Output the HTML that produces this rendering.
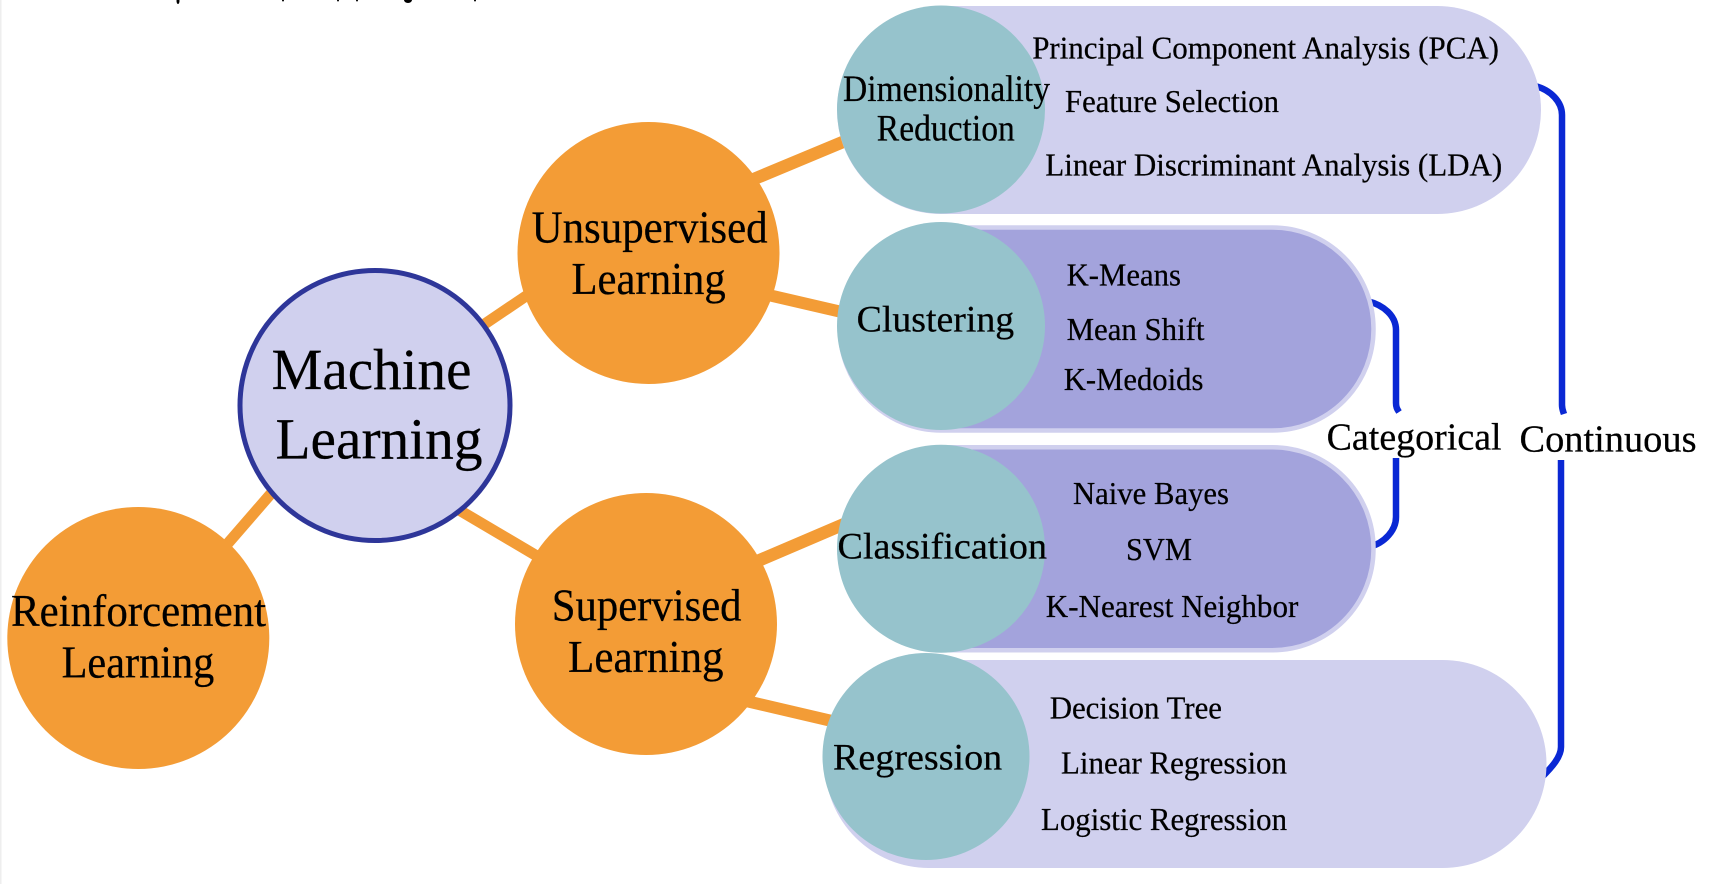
<!DOCTYPE html>
<html lang="en">
<head>
<meta charset="utf-8">
<title>Machine Learning</title>
<style>
html,body{margin:0;padding:0;background:#fff;width:1710px;height:884px;overflow:hidden}
svg{display:block}
text{font-family:"Liberation Serif","Times New Roman",serif;fill:#000;stroke:#000;stroke-width:.25}
.l{stroke:#f39c36;fill:none}
.b{stroke:#0a28d4;stroke-width:6.5;fill:none}
</style>
</head>
<body>
<svg width="1710" height="884" viewBox="0 0 1710 884" xmlns="http://www.w3.org/2000/svg">
<rect x="0" y="0" width="1.5" height="884" fill="#eeeeee"/>
<g fill="#000">
<ellipse cx="178" cy="1" rx="1.5" ry="3"/>
<ellipse cx="283" cy="0" rx="1" ry="1.5"/>
<ellipse cx="338" cy="0" rx="1" ry="1.5"/>
<ellipse cx="357" cy="0" rx="1" ry="1.5"/>
<ellipse cx="408" cy="0" rx="4" ry="3"/>
<ellipse cx="475" cy="0" rx="1" ry="1.5"/>
</g>

<g class="l">
<line x1="478" y1="328.5" x2="532" y2="292" stroke-width="11"/>
<line x1="748" y1="181.5" x2="850" y2="139" stroke-width="12.5"/>
<line x1="764" y1="294" x2="846" y2="313" stroke-width="12"/>
<line x1="275" y1="489" x2="223" y2="549" stroke-width="11"/>
<line x1="454" y1="507" x2="542" y2="559" stroke-width="11"/>
<line x1="753" y1="563" x2="849" y2="522" stroke-width="12.5"/>
<line x1="744" y1="700.5" x2="834" y2="721.5" stroke-width="12"/>
</g>

<path class="b" d="M1535,86 C1551,90 1562,102 1562,115 V405 C1562,409 1563,411 1564,414"/>
<path class="b" d="M1561,460 V747 C1561,757 1552,767 1542,777"/>
<path class="b" d="M1367,301 C1384,305 1396,316 1396,330 V403 C1396,407 1397,409 1399,412"/>
<path class="b" d="M1396,458 V517 C1396,530 1385,543 1369,547"/>

<rect x="837" y="6" width="704" height="208" rx="104" ry="104" fill="#d0d0ee"/>
<rect x="840" y="227.5" width="533.5" height="203" rx="101" ry="101" fill="#a3a3dc" stroke="#d0d0ee" stroke-width="4.5"/>
<rect x="841" y="447.2" width="532.5" height="203" rx="101" ry="101" fill="#a3a3dc" stroke="#d0d0ee" stroke-width="4.5"/>
<rect x="825" y="660" width="721.5" height="208" rx="104" ry="104" fill="#d0d0ee"/>

<circle cx="941" cy="109.5" r="104" fill="#96c3cc"/>
<circle cx="941" cy="326" r="104" fill="#96c3cc"/>
<circle cx="941" cy="548.7" r="104" fill="#96c3cc"/>
<circle cx="926" cy="756.5" r="103.5" fill="#96c3cc"/>

<circle cx="648.5" cy="253" r="131" fill="#f39c36"/>
<circle cx="646" cy="624" r="131" fill="#f39c36"/>
<circle cx="138.3" cy="638" r="131" fill="#f39c36"/>
<circle cx="375" cy="405.5" r="135" fill="#d0d0ee" stroke="#2e3699" stroke-width="5"/>

<g font-size="58">
<text x="271.5" y="389" textLength="200" lengthAdjust="spacingAndGlyphs">Machine</text>
<text x="275.5" y="458.5" textLength="207" lengthAdjust="spacingAndGlyphs">Learning</text>
</g>
<g font-size="45">
<text x="531.6" y="242.5" textLength="236" lengthAdjust="spacingAndGlyphs">Unsupervised</text>
<text x="571.4" y="294" textLength="154.3" lengthAdjust="spacingAndGlyphs">Learning</text>
<text x="11" y="626" textLength="255" lengthAdjust="spacingAndGlyphs">Reinforcement</text>
<text x="61.6" y="677.5" textLength="152.7" lengthAdjust="spacingAndGlyphs">Learning</text>
<text x="551.8" y="620.5" textLength="189.7" lengthAdjust="spacingAndGlyphs">Supervised</text>
<text x="568" y="672" textLength="155.6" lengthAdjust="spacingAndGlyphs">Learning</text>
</g>
<g font-size="37">
<text x="843" y="101" textLength="207" lengthAdjust="spacingAndGlyphs">Dimensionality</text>
<text x="876.8" y="140.5" textLength="138" lengthAdjust="spacingAndGlyphs">Reduction</text>
<text x="856.6" y="331.5" textLength="157.6" lengthAdjust="spacingAndGlyphs">Clustering</text>
<text x="837.5" y="558.5" textLength="209.5" lengthAdjust="spacingAndGlyphs">Classification</text>
<text x="833" y="769.5" textLength="169.2" lengthAdjust="spacingAndGlyphs">Regression</text>
</g>
<g font-size="32">
<text x="1032.2" y="58.3" textLength="466.8" lengthAdjust="spacingAndGlyphs">Principal Component Analysis (PCA)</text>
<text x="1065" y="112" textLength="214" lengthAdjust="spacingAndGlyphs">Feature Selection</text>
<text x="1045.3" y="175.5" textLength="456.9" lengthAdjust="spacingAndGlyphs">Linear Discriminant Analysis (LDA)</text>
<text x="1066.6" y="285.5" textLength="114.4" lengthAdjust="spacingAndGlyphs">K-Means</text>
<text x="1066.6" y="340" textLength="137.9" lengthAdjust="spacingAndGlyphs">Mean Shift</text>
<text x="1063.8" y="390" textLength="139.6" lengthAdjust="spacingAndGlyphs">K-Medoids</text>
<text x="1073" y="504" textLength="156" lengthAdjust="spacingAndGlyphs">Naive Bayes</text>
<text x="1126" y="560" textLength="66" lengthAdjust="spacingAndGlyphs">SVM</text>
<text x="1045.8" y="617" textLength="252.5" lengthAdjust="spacingAndGlyphs">K-Nearest Neighbor</text>
<text x="1049.7" y="718.5" textLength="172.3" lengthAdjust="spacingAndGlyphs">Decision Tree</text>
<text x="1061" y="773.5" textLength="226" lengthAdjust="spacingAndGlyphs">Linear Regression</text>
<text x="1041" y="830" textLength="246" lengthAdjust="spacingAndGlyphs">Logistic Regression</text>
</g>
<g font-size="38">
<text x="1326.6" y="449.5" textLength="175" lengthAdjust="spacingAndGlyphs">Categorical</text>
<text x="1519.5" y="451.5" textLength="177" lengthAdjust="spacingAndGlyphs">Continuous</text>
</g>
</svg>
</body>
</html>
